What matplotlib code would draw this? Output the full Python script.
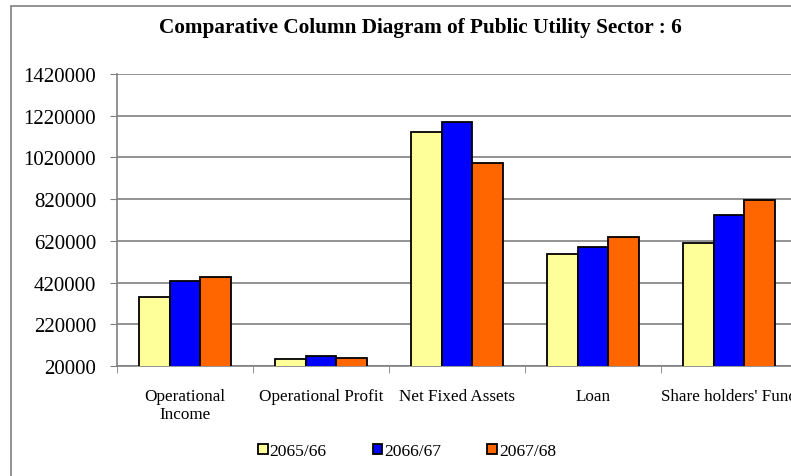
import numpy as np
import matplotlib
matplotlib.use("Agg")
import matplotlib.pyplot as plt
from matplotlib.patches import Rectangle

plt.rcParams['font.family'] = ['Liberation Serif', 'DejaVu Serif']

# Data
categories = ["Operational\nIncome", "Operational Profit", "Net Fixed Assets", "Loan", "Share holders' Fund"]
years = ["2065/66", "2066/67", "2067/68"]
y2065 = [352000, 53600, 1144000, 555500, 611600]
y2066 = [426000, 66500, 1192000, 589000, 746000]
y2067 = [448000, 60000, 992000, 637000, 814000]
colors = ["#FFFF99", "#0000FF", "#FF6600"]

fig = plt.figure(figsize=(7.91, 4.77), dpi=100)

# chart frame (extends beyond right/bottom edge like the original)
fig.patches.append(Rectangle((11 / 791, -0.1), 1.2, 1 - 7 / 477 + 0.1,
                             transform=fig.transFigure, fill=False,
                             edgecolor="#808080", linewidth=1.2))

ax = fig.add_axes([117 / 791, 110 / 477, 680 / 791, 292 / 477])

x = np.arange(len(categories))
w = 0.224
for i, (vals, c, lab) in enumerate(zip([y2065, y2066, y2067], colors, years)):
    ax.bar(x + (i - 1) * w, vals, width=w, color=c, edgecolor="black",
           linewidth=1.3, label=lab, zorder=3)

ax.set_ylim(20000, 1420000)
ax.set_yticks(np.arange(20000, 1420001, 200000))
ax.set_yticklabels([str(v) for v in range(20000, 1420001, 200000)], fontsize=15)
ax.set_xlim(-0.5, len(categories) - 0.5)
ax.set_xticks(x)
ax.set_xticklabels(categories, fontsize=12.3, linespacing=1.15)
ax.set_xticks(np.arange(-0.5, len(categories), 1), minor=True)
ax.tick_params(axis='x', which='major', length=0, pad=16)
ax.tick_params(axis='x', which='minor', length=5, color="#808080")
ax.tick_params(axis='y', length=5, color="#808080", pad=10)

ax.grid(axis='y', color="#808080", linewidth=1.2, zorder=0)
for s in ["top", "right"]:
    ax.spines[s].set_visible(False)
for s in ["left", "bottom"]:
    ax.spines[s].set_color("#808080")
    ax.spines[s].set_linewidth(1.2)

fig.text(420 / 791, 1 - 28 / 477, "Comparative Column Diagram of Public Utility Sector : 6",
         ha="center", va="center", fontsize=15.3, fontweight="bold")

fig.legend(loc="center", bbox_to_anchor=(407 / 791, 1 - 452 / 477), ncol=3,
           frameon=False, fontsize=12.6, handlelength=0.55, handleheight=0.55,
           handletextpad=0.1, columnspacing=2.65)

fig.savefig("out.png", dpi=100)
